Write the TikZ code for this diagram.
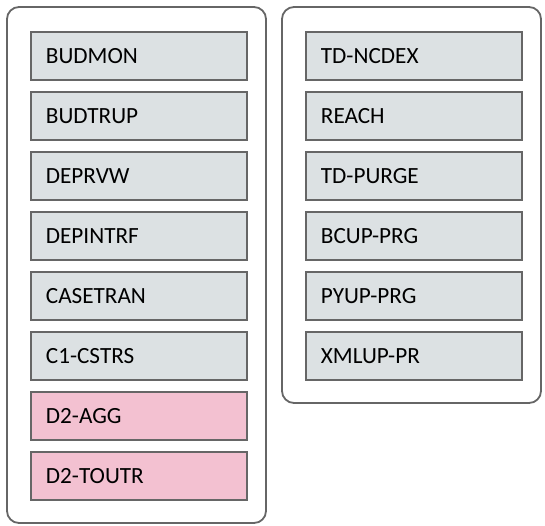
\documentclass[tikz,border=0pt]{standalone}
\usepackage{fontspec}
\setmainfont{Carlito}
\definecolor{boxgray}{HTML}{DCE1E3}
\definecolor{boxpink}{HTML}{F3C1D1}
\definecolor{edgegray}{HTML}{666666}
\begin{document}
\begin{tikzpicture}[x=1pt,y=-1pt,
  container/.style={draw=edgegray,line width=1.8pt,rounded corners=12pt,fill=white},
  item/.style={draw=edgegray,line width=1.8pt,minimum width=216pt,minimum height=48pt,inner sep=0pt,text width=186pt,align=left,font=\fontsize{23.2}{26}\selectfont,anchor=north west},
  grayitem/.style={item,fill=boxgray},
  pinkitem/.style={item,fill=boxpink}]
\useasboundingbox (0,0) rectangle (545,525);
\draw[container] (7,7) rectangle (266,523);
\draw[container] (282,7) rectangle (541,403);
\node[grayitem] (budmon) at (30,31) {BUDMON};
\node[grayitem] (budtrup) at (30,91) {BUDTRUP};
\node[grayitem] (deprvw) at (30,151) {DEPRVW};
\node[grayitem] (depintrf) at (30,211) {DEPINTRF};
\node[grayitem] (casetran) at (30,271) {CASETRAN};
\node[grayitem] (cstrs) at (30,331) {C1-CSTRS};
\node[pinkitem] (agg) at (30,391) {D2-AGG};
\node[pinkitem] (toutr) at (30,451) {D2-TOUTR};
\node[grayitem] (ncdex) at (305,31) {TD-NCDEX};
\node[grayitem] (reach) at (305,91) {REACH};
\node[grayitem] (purge) at (305,151) {TD-PURGE};
\node[grayitem] (bcup) at (305,211) {BCUP-PRG};
\node[grayitem] (pyup) at (305,271) {PYUP-PRG};
\node[grayitem] (xmlup) at (305,331) {XMLUP-PR};
\end{tikzpicture}
\end{document}
